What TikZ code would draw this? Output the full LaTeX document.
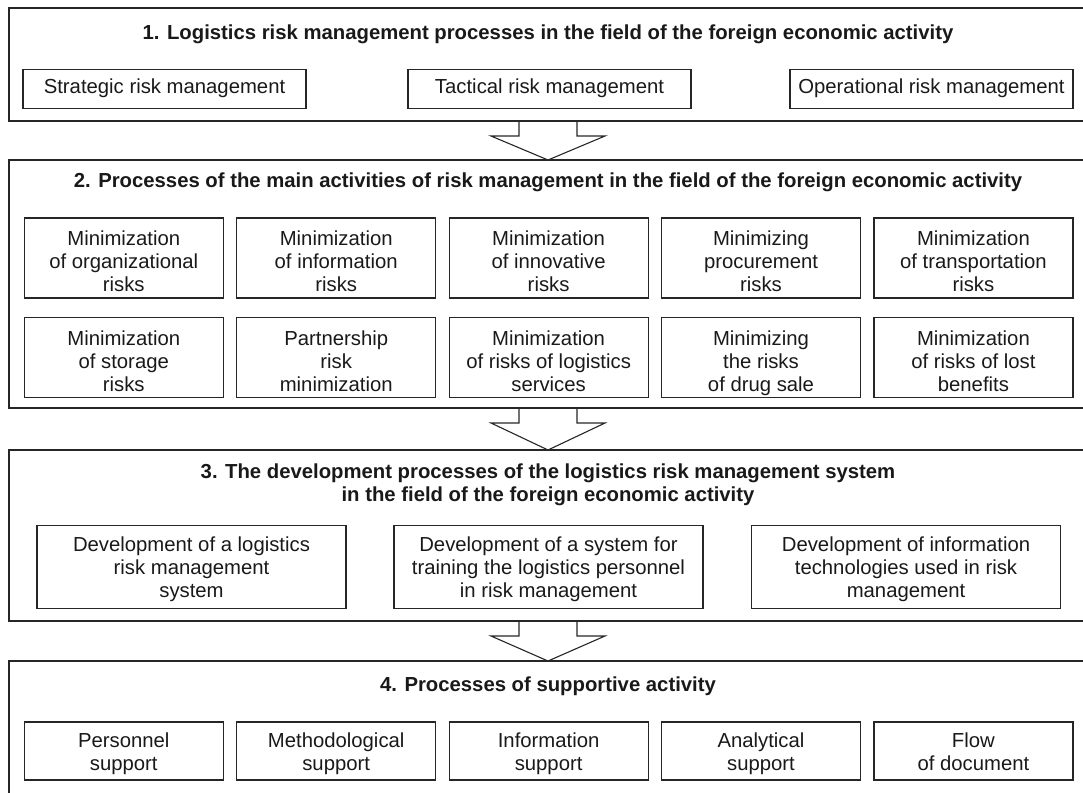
\documentclass[tikz,border=0pt]{standalone}
\usepackage{fontspec}
\setmainfont{Liberation Sans}
\usetikzlibrary{calc}

\tikzset{
  every node/.style={font=\fontsize{20.3}{23}\selectfont, text=black!90},
  frame/.style={draw=black!85, line width=1.4pt, minimum width=1078pt, inner sep=0pt, outer sep=0pt},
  head/.style={font=\fontsize{20.3}{23}\selectfont\bfseries, align=center},
  plain/.style={draw=black!85, line width=1.2pt, inner sep=0pt, align=center},
  lift/.style={execute at begin node={\rule{0pt}{#1}}, execute at end node={\rule[-4.8pt]{0pt}{4.8pt}}},
  wide/.style={plain, minimum width=283pt, minimum height=39pt,
    execute at begin node=\strut, execute at end node=\strut},
  cell/.style={plain, lift=72.6pt, minimum width=199pt, minimum height=80pt},
  devbox/.style={plain, lift=65.6pt, minimum width=309pt, minimum height=83pt},
  supbox/.style={plain, lift=43.6pt, minimum width=199pt, minimum height=58pt},
  blockarrow/.style={draw=black!85, line width=1.1pt, line join=miter},
}

\newcommand{\DownArrow}[2]{%
  \draw[blockarrow] ($(#1.south)+(-29,0)$) -- ++(0,15) -- ++(-28,0) -- (#2.north)
    -- ($(#1.south)+(57,15)$) -- ++(-28,0) -- ++(0,-15);}

\begin{document}
\begin{tikzpicture}[x=1pt, y=-1pt]
  \useasboundingbox (0,0) rectangle (1083,792);
  \clip (0,0) rectangle (1083,792);

  \node[frame, minimum height=113pt] (Logistics) at (548,64.5) {};
  \node[head] (LogisticsTitle) at (548,34) {1. Logistics risk management processes in the field of the foreign economic activity};
  \node[wide] (Strategic) at (164.5,89) {Strategic risk management};
  \node[wide] (Tactical) at (549.5,89) {Tactical risk management};
  \node[wide] (Operational) at (931.5,89) {Operational risk management};

  \node[frame, minimum height=248pt] (Main) at (548,284) {};
  \node[head] (MainTitle) at (548,182) {2. Processes of the main activities of risk management in the field of the foreign economic activity};
  \node[cell] (Organizational) at (123.75,258) {Minimization\\of organizational\\risks};
  \node[cell] (Information) at (336.2,258) {Minimization\\of information\\risks};
  \node[cell] (Innovative) at (548.6,258) {Minimization\\of innovative\\risks};
  \node[cell] (Procurement) at (761,258) {Minimizing\\procurement\\risks};
  \node[cell] (Transportation) at (973.4,258) {Minimization\\of transportation\\risks};
  \node[cell] (Storage) at (123.75,357.5) {Minimization\\of storage\\risks};
  \node[cell] (Partnership) at (336.2,357.5) {Partnership\\risk\\minimization};
  \node[cell] (Services) at (548.6,357.5) {Minimization\\of risks of logistics\\services};
  \node[cell] (DrugSale) at (761,357.5) {Minimizing\\the risks\\of drug sale};
  \node[cell] (LostBenefits) at (973.4,357.5) {Minimization\\of risks of lost\\benefits};

  \node[frame, minimum height=171pt] (Development) at (548,535.5) {};
  \node[head] (DevelopmentTitle) at (548,485) {3. The development processes of the logistics risk management system\\in the field of the foreign economic activity};
  \node[devbox] (RiskSystem) at (191.5,567) {Development of a logistics\\risk management\\system};
  \node[devbox] (Training) at (548.5,567) {Development of a system for\\training the logistics personnel\\in risk management};
  \node[devbox] (Technologies) at (906,567) {Development of information\\technologies used in risk\\management};

  \node[frame, minimum height=140pt] (Supportive) at (548,731) {};
  \node[head] (SupportiveTitle) at (548,686) {4. Processes of supportive activity};
  \node[supbox] (Personnel) at (123.75,751) {Personnel\\support};
  \node[supbox] (Methodological) at (336.2,751) {Methodological\\support};
  \node[supbox] (InformationSupport) at (548.6,751) {Information\\support};
  \node[supbox] (Analytical) at (761,751) {Analytical\\support};
  \node[supbox] (Document) at (973.4,751) {Flow\\of document};

  \DownArrow{Logistics}{Main}
  \DownArrow{Main}{Development}
  \DownArrow{Development}{Supportive}
\end{tikzpicture}
\end{document}
